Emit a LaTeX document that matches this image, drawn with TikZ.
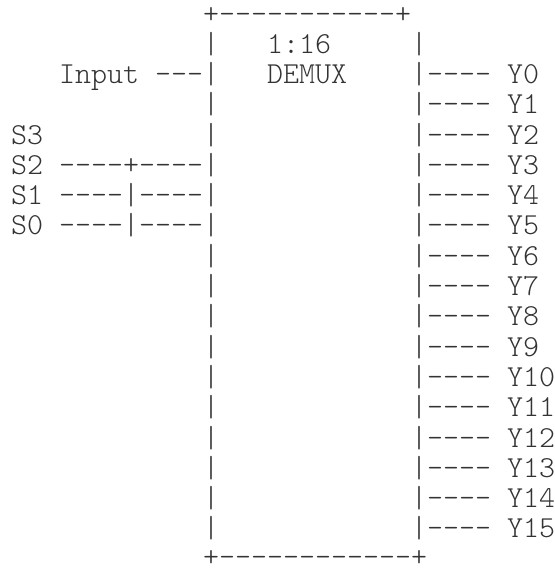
\documentclass[tikz,border=0pt]{standalone}
\usepackage{fontspec}
\setmonofont{lmmonolt10-regular.otf}
\tikzset{asc/.style={anchor=base west,inner sep=0pt,outer sep=0pt,text=black!80,
  font=\ttfamily\fontsize{15.24pt}{17pt}\selectfont}}
\begin{document}
\begin{tikzpicture}[x=0.5pt,y=-0.5pt]
\useasboundingbox (0,0) rectangle (555,568);
\node[asc] (top) at (203,23.5) {+-----------+};
\node[asc] (l1) at (203,53.1) {|};
\node[asc] (ratio) at (267,53.1) {1:16};
\node[asc] (r1) at (411,53.1) {|};
\node[asc] (in) at (59,83.4) {Input ---|};
\node[asc] (name) at (267,83.4) {DEMUX};
\node[asc] (l3) at (203,113.7) {|};
\node[asc] (s3) at (11,144.0) {S3};
\node[asc] (l4) at (203,144.0) {|};
\node[asc] (s2) at (11,174.3) {S2 ----+----|};
\node[asc] (s1) at (11,204.6) {S1 ----|----|};
\node[asc] (s0) at (11,234.9) {S0 ----|----|};
\node[asc] (l8) at (203,265.2) {|};
\node[asc] (l9) at (203,295.5) {|};
\node[asc] (l10) at (203,325.8) {|};
\node[asc] (l11) at (203,356.1) {|};
\node[asc] (l12) at (203,386.4) {|};
\node[asc] (l13) at (203,416.7) {|};
\node[asc] (l14) at (203,447.0) {|};
\node[asc] (l15) at (203,477.3) {|};
\node[asc] (l16) at (203,507.6) {|};
\node[asc] (l17) at (203,537.9) {|};
% outputs
\node[asc] (y0) at (411,83.4) {|---- Y0};
\node[asc] (y1) at (411,113.7) {|---- Y1};
\node[asc] (y2) at (411,144.0) {|---- Y2};
\node[asc] (y3) at (411,174.3) {|---- Y3};
\node[asc] (y4) at (411,204.6) {|---- Y4};
\node[asc] (y5) at (411,234.9) {|---- Y5};
\node[asc] (y6) at (411,265.2) {|---- Y6};
\node[asc] (y7) at (411,295.5) {|---- Y7};
\node[asc] (y8) at (411,325.8) {|---- Y8};
\node[asc] (y9) at (411,356.1) {|---- Y9};
\node[asc] (y10) at (411,386.4) {|---- Y10};
\node[asc] (y11) at (411,416.7) {|---- Y11};
\node[asc] (y12) at (411,447.0) {|---- Y12};
\node[asc] (y13) at (411,477.3) {|---- Y13};
\node[asc] (y14) at (411,507.6) {|---- Y14};
\node[asc] (y15) at (411,537.9) {|---- Y15};
\node[asc,text depth=0pt] (bot) at (203,566.5) {+------------+};
\end{tikzpicture}
\end{document}
